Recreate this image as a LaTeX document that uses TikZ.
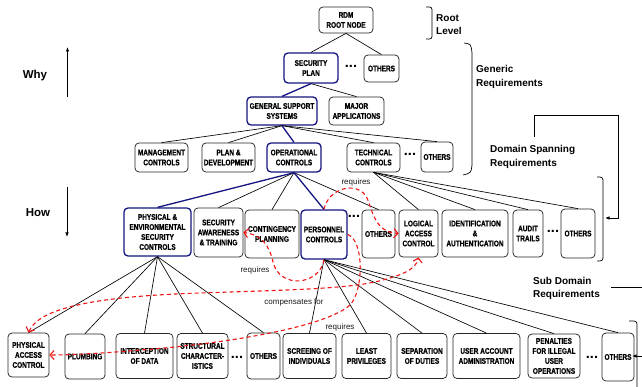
\documentclass[tikz,border=0pt]{standalone}
\usepackage{fontspec}
\setmainfont{Liberation Sans}
\newfontfamily\boxfont[FakeStretch=0.8,FakeBold=0.6]{Liberation Sans}
\usetikzlibrary{arrows.meta}
\definecolor{navy}{RGB}{20,20,130}
\definecolor{dred}{RGB}{240,20,20}
\begin{document}
\begin{tikzpicture}[x=1pt,y=-1pt,
  box/.style={draw=black!85, line width=0.75pt, rounded corners=4pt, fill=white, align=center, inner sep=0pt,
    font=\boxfont\bfseries\fontsize{8.1}{10}\selectfont},
  bbox/.style={box, draw=navy, line width=1.3pt},
  edge/.style={line width=0.65pt},
  bedge/.style={draw=navy, line width=1.3pt},
  rdash/.style={draw=dred, line width=1.1pt, dash pattern=on 4pt off 3pt, -{Straight Barb[length=4pt,width=9pt]}},
  rdash2/.style={rdash, {Straight Barb[length=4pt,width=9pt]}-{Straight Barb[length=4pt,width=9pt]}},
  lbl/.style={font=\fontsize{8}{9}\selectfont, text=black!90, inner sep=0pt},
  side/.style={font=\bfseries\fontsize{10}{13.5}\selectfont, align=left, anchor=west, inner sep=0pt},
  dotsn/.style={font=\bfseries\fontsize{14.5}{14}\selectfont, inner sep=0pt},
  bline/.style={line width=0.7pt},
  barr/.style={line width=0.7pt, -{Latex[length=4.5pt,width=3.5pt]}}
]
\useasboundingbox (0,0) rectangle (642,387);

% ---- nodes ----
\node[box, minimum width=54pt, minimum height=26pt] (rdm) at (346,20) {RDM\\ROOT NODE};
\node[bbox, minimum width=54pt, minimum height=30pt] (sp) at (311,68) {SECURITY\\PLAN};
\node[dotsn] (d1) at (351,66.5) {...};
\node[box, minimum width=35pt, minimum height=27pt] (oth1) at (381.5,68.5) {OTHERS};
\node[bbox, minimum width=70pt, minimum height=28pt] (gss) at (282,111) {GENERAL SUPPORT\\SYSTEMS};
\node[box, minimum width=55pt, minimum height=28pt] (maj) at (356.5,111) {MAJOR\\APPLICATIONS};

\node[box, minimum width=53pt, minimum height=29pt] (mgmt) at (161.5,157.5) {MANAGEMENT\\CONTROLS};
\node[box, minimum width=53pt, minimum height=29pt] (plan) at (228.5,157.5) {PLAN \&\\DEVELOPMENT};
\node[bbox, minimum width=54pt, minimum height=29pt] (oper) at (294,157.5) {OPERATIONAL\\CONTROLS};
\node[box, minimum width=53pt, minimum height=29pt] (tech) at (373.5,157.5) {TECHNICAL\\CONTROLS};
\node[dotsn] (d2) at (410,154.5) {...};
\node[box, minimum width=32pt, minimum height=30pt] (oth2) at (437,157) {OTHERS};

\node[bbox, minimum width=67pt, minimum height=48pt] (pe) at (157.5,232) {PHYSICAL \&\\ENVIRONMENTAL\\SECURITY\\CONTROLS};
\node[box, minimum width=49pt, minimum height=49pt] (sat) at (218.5,232.5) {SECURITY\\AWARENESS\\\& TRAINING};
\node[box, minimum width=54pt, minimum height=48pt] (cont) at (272,234) {CONTINGENCY\\PLANNING};
\node[bbox, minimum width=46pt, minimum height=49pt] (pers) at (324,234.5) {PERSONNEL\\CONTROLS};
\node[dotsn] (d3) at (354,216.5) {...};
\node[box, minimum width=33pt, minimum height=48pt] (oth3) at (378.5,234) {OTHERS};
\node[box, minimum width=39pt, minimum height=47pt] (lac) at (418.5,233.5) {LOGICAL\\ACCESS\\CONTROL};
\node[box, minimum width=66pt, minimum height=47pt] (ia) at (475,233.5) {IDENTIFICATION\\\&\\AUTHENTICATION};
\node[box, minimum width=30pt, minimum height=47pt] (audit) at (528,233.5) {AUDIT\\TRAILS};
\node[dotsn] (d4) at (553,231.5) {...};
\node[box, minimum width=34pt, minimum height=49pt] (oth4) at (578,233.5) {OTHERS};

\node[box, minimum width=41pt, minimum height=44pt] (pac) at (28.5,355) {PHYSICAL\\ACCESS\\CONTROL};
\node[box, minimum width=40pt, minimum height=45pt] (plumb) at (85,356.5) {PLUMBING};
\node[box, minimum width=57pt, minimum height=45pt] (inter) at (144.5,356) {INTERCEPTION\\OF DATA};
\node[box, minimum width=51pt, minimum height=45pt] (struct) at (202.5,356) {STRUCTURAL\\CHARACTER-\\ISTICS};
\node[dotsn] (d5) at (237,357.5) {...};
\node[box, minimum width=33pt, minimum height=46pt] (oth5) at (263.5,356) {OTHERS};
\node[box, minimum width=53pt, minimum height=45pt] (scr) at (309.5,356) {SCREEING OF\\INDIVIDUALS};
\node[box, minimum width=49pt, minimum height=45pt] (least) at (366.5,356) {LEAST\\PRIVILEGES};
\node[box, minimum width=50pt, minimum height=45pt] (sep) at (422,356) {SEPARATION\\OF DUTIES};
\node[box, minimum width=67pt, minimum height=45pt] (uacc) at (486.5,356) {USER ACCOUNT\\ADMINISTRATION};
\node[box, minimum width=52pt, minimum height=44pt] (pen) at (554,356) {PENALTIES\\FOR ILLEGAL\\USER\\OPERATIONS};
\node[dotsn] (d6) at (592,357.5) {...};
\node[box, minimum width=32pt, minimum height=48pt] (oth6) at (618,357) {OTHERS};

% ---- tree edges ----
\draw[edge] (rdm.south) -- (sp.north);
\draw[edge] (rdm.south) -- (oth1.north);
\draw[bedge] (sp.south) -- (gss.north);
\draw[edge] (sp.south) -- (maj.north);
\foreach \c in {mgmt,plan,tech,oth2} \draw[edge] (gss.south) -- (\c.north);
\draw[bedge] (gss.south) -- (oper.north);
\foreach \c in {sat,cont,oth3} \draw[edge] (oper.south) -- (\c.north);
\draw[bedge] (oper.south) -- (pe.north);
\draw[bedge] (oper.south) -- (pers.north);
\foreach \c in {lac,ia,audit,oth4} \draw[edge] (tech.south) -- (\c.north);
\foreach \c in {pac,plumb,inter,struct,oth5} \draw[edge] (pe.south) -- (\c.north);
\foreach \c in {scr,least,sep,uacc,pen,oth6} \draw[edge] (pers.south) -- (\c.north);

% ---- side labels and brackets ----
\node[side] (rootl) at (436,24.5) {Root\\Level};
\draw[bline, rounded corners=2.5pt] (426,7) -- (432,7) -- (432,39) -- (426,39);
\node[side] (genl) at (476,77) {Generic\\Requirements};
\draw[bline] (464,43) .. controls (471,44) .. (472,53) -- (472,165) .. controls (471,173) .. (463,175);
\node[side] (doml) at (490,157) {Domain Spanning\\Requirements};
\draw[bline, rounded corners=3pt] (597,177) -- (603,177) -- (603,261) -- (597,261);
\coordinate (dtop) at (534,137);
\coordinate (dend) at (605,218);
\draw[barr] (dtop) -- (534,115) -- (618,115) -- (618,218) -- (dend);
\node[side] (subl) at (533,288.5) {Sub Domain\\Requirements};
\coordinate (sl) at (611,287);
\coordinate (sr) at (642,287);
\draw[bline] (sl) -- (sr);
\draw[bline, rounded corners=3pt] (629,321) -- (637,321) -- (637,387);
\coordinate (ar) at (642,356);
\coordinate (al) at (632,356);
\draw[barr] (ar) -- (al);

\node[font=\bfseries\fontsize{11.5}{12}\selectfont, inner sep=0pt] (why) at (35,76) {Why};
\node[font=\bfseries\fontsize{11.5}{12}\selectfont, inner sep=0pt] (how) at (38,213) {How};
\coordinate (wy1) at (67.5,97);
\coordinate (wy2) at (67.5,47);
\draw[barr] (wy1) -- (wy2);
\coordinate (hw1) at (67,187);
\coordinate (hw2) at (67,237);
\draw[barr] (hw1) -- (hw2);

% ---- red dependency curves ----
\draw[rdash] (pers.north) .. controls (328,188) and (358,180) .. (367,198)
   .. controls (373,212) and (375,232) .. (lac.west);
\draw[rdash] (pers.south) .. controls (320,285) and (280,290) .. (273,262)
   .. controls (269,245) and (262,235) .. (sat.east);
\draw[rdash] (pers.east) .. controls (364,240) and (364,290) .. (350,305)
   .. controls (330,323) and (260,338) .. (175,347)
   .. controls (120,352) and (80,355) .. (pac.east);
\draw[rdash2] (pac.north) .. controls (40,305) and (110,296) .. (200,293)
   .. controls (290,290) and (340,289) .. (375,282)
   .. controls (400,276) and (416,270) .. (lac.south);

\node[lbl] (lq1) at (356,182) {requires};
\node[lbl] (lq2) at (255,270) {requires};
\node[lbl] (lcp) at (294,302) {compensates for};
\node[lbl] (lq3) at (340,327) {requires};
\end{tikzpicture}
\end{document}
